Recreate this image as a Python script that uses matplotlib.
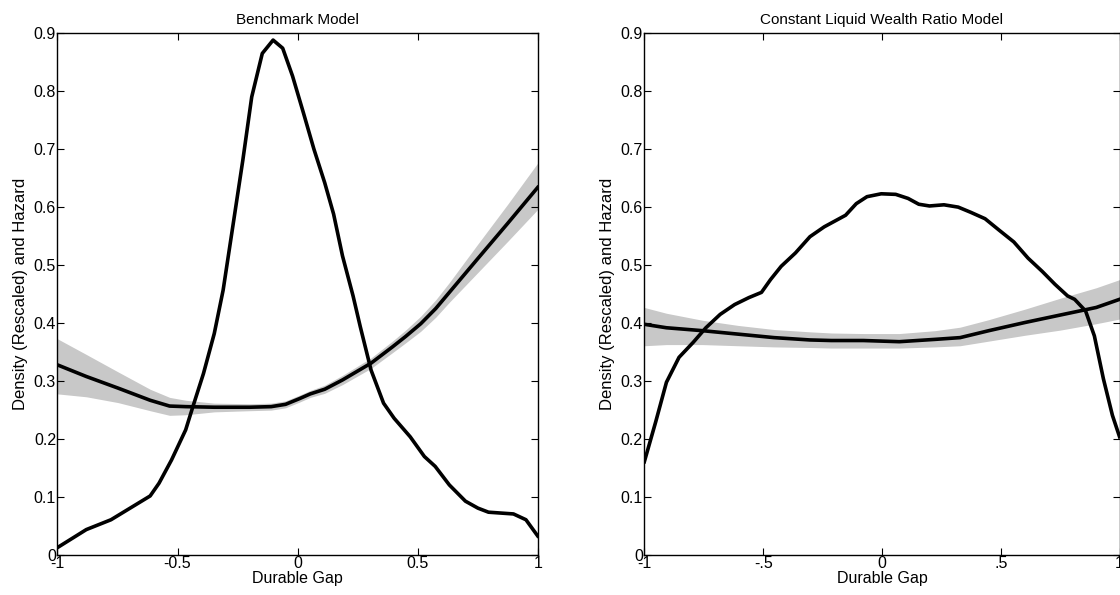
import matplotlib
matplotlib.use("Agg")
import matplotlib.pyplot as plt

plt.rcParams['font.family'] = ['Liberation Sans', 'DejaVu Sans']

# ---- Benchmark model ----
bench_dens_x = [-1.0, -0.88, -0.777, -0.614, -0.577, -0.525, -0.466, -0.436, -0.392, -0.347,
                -0.31, -0.266, -0.228, -0.191, -0.147, -0.102, -0.062, -0.021, 0.024, 0.068,
                0.113, 0.15, 0.187, 0.231, 0.261, 0.306, 0.358, 0.402, 0.469, 0.528,
                0.573, 0.632, 0.699, 0.751, 0.795, 0.899, 0.951, 1.0]
bench_dens = [0.012, 0.043, 0.060, 0.101, 0.123, 0.163, 0.215, 0.255, 0.312, 0.381,
              0.456, 0.576, 0.68, 0.789, 0.864, 0.887, 0.873, 0.825, 0.762, 0.699,
              0.641, 0.587, 0.515, 0.446, 0.393, 0.318, 0.261, 0.235, 0.203, 0.169,
              0.152, 0.120, 0.092, 0.080, 0.073, 0.070, 0.060, 0.032]

bench_haz_x = [-1.0, -0.88, -0.748, -0.614, -0.533, -0.466, -0.347, -0.199, -0.11, -0.05,
               0.009, 0.053, 0.113, 0.187, 0.306, 0.395, 0.45, 0.513, 0.575, 0.632, 0.75,
               0.875, 1.0]
bench_haz = [0.327, 0.307, 0.287, 0.266, 0.256, 0.255, 0.254, 0.254, 0.255, 0.259,
             0.269, 0.277, 0.285, 0.301, 0.330, 0.358, 0.376, 0.398, 0.424, 0.452, 0.51,
             0.571, 0.633]
bench_hi = [0.372, 0.345, 0.315, 0.285, 0.271, 0.266, 0.261, 0.26, 0.261, 0.265,
            0.275, 0.283, 0.292, 0.309, 0.339, 0.368, 0.387, 0.411, 0.439, 0.469, 0.535,
            0.604, 0.675]
bench_lo = [0.277, 0.272, 0.262, 0.248, 0.240, 0.241, 0.246, 0.248, 0.249, 0.253,
            0.263, 0.271, 0.278, 0.293, 0.321, 0.348, 0.365, 0.385, 0.409, 0.435, 0.486,
            0.54, 0.595]

# ---- Constant liquid wealth ratio model ----
clw_dens_x = [-1.0, -0.952, -0.907, -0.854, -0.794, -0.741, -0.681, -0.62, -0.56, -0.507,
              -0.469, -0.424, -0.364, -0.303, -0.243, -0.153, -0.108, -0.063, -0.003, 0.058,
              0.11, 0.155, 0.2, 0.261, 0.321, 0.374, 0.434, 0.494, 0.555, 0.615,
              0.675, 0.728, 0.781, 0.811, 0.857, 0.894, 0.932, 0.97, 1.0]
clw_dens = [0.16, 0.229, 0.297, 0.340, 0.366, 0.391, 0.414, 0.431, 0.443, 0.452,
            0.474, 0.497, 0.52, 0.548, 0.565, 0.585, 0.605, 0.617, 0.622, 0.621,
            0.614, 0.604, 0.601, 0.603, 0.599, 0.590, 0.579, 0.559, 0.539, 0.511,
            0.488, 0.466, 0.446, 0.44, 0.42, 0.377, 0.303, 0.24, 0.203]

clw_haz_x = [-1.0, -0.907, -0.756, -0.605, -0.454, -0.304, -0.213, -0.078, 0.073, 0.224,
             0.329, 0.45, 0.601, 0.751, 0.902, 1.0]
clw_haz = [0.397, 0.391, 0.386, 0.38, 0.374, 0.37, 0.369, 0.369, 0.367, 0.371,
           0.374, 0.386, 0.4, 0.413, 0.426, 0.44]
clw_hi = [0.426, 0.416, 0.404, 0.395, 0.388, 0.384, 0.382, 0.381, 0.381, 0.386,
          0.392, 0.405, 0.423, 0.442, 0.46, 0.474]
clw_lo = [0.36, 0.362, 0.362, 0.36, 0.358, 0.357, 0.356, 0.356, 0.356, 0.358,
          0.36, 0.368, 0.378, 0.387, 0.398, 0.406]

panels = [
    ("Benchmark Model", bench_dens_x, bench_dens, bench_haz_x, bench_haz, bench_hi, bench_lo,
     [-1, -0.5, 0, 0.5, 1], ["-1", "-0.5", "0", "0.5", "1"]),
    ("Constant Liquid Wealth Ratio Model", clw_dens_x, clw_dens, clw_haz_x, clw_haz, clw_hi, clw_lo,
     [-1, -0.5, 0, 0.5, 1], ["-1", "-.5", "0", ".5", "1"]),
]

yticks = [0, 0.1, 0.2, 0.3, 0.4, 0.5, 0.6, 0.7, 0.8, 0.9]
ytick_labels = ["0", "0.1", "0.2", "0.3", "0.4", "0.5", "0.6", "0.7", "0.8", "0.9"]

fig = plt.figure(figsize=(11.2, 5.95), dpi=100)
rects = [[0.0513, 0.068, 0.4288, 0.8773], [0.5753, 0.068, 0.4243, 0.8773]]

for rect, (title, dx, dy, hx, hy, hi, lo, xt, xtl) in zip(rects, panels):
    ax = fig.add_axes(rect)
    ax.fill_between(hx, lo, hi, color="#c8c8c8", linewidth=0)
    ax.plot(hx, hy, color="black", linewidth=2.6)
    ax.plot(dx, dy, color="black", linewidth=2.6)
    ax.set_xlim(-1, 1)
    ax.set_ylim(0, 0.9)
    ax.set_xticks(xt)
    ax.set_xticklabels(xtl)
    ax.set_yticks(yticks)
    ax.set_yticklabels(ytick_labels)
    ax.tick_params(direction="in", top=True, right=True, length=5, width=0.8,
                   labelsize=11.5, pad=1)
    for s in ax.spines.values():
        s.set_linewidth(1.0)
    ax.set_title(title, fontsize=11, pad=6)
    ax.set_xlabel("Durable Gap", fontsize=11.5, labelpad=0)
    ax.set_ylabel("Density (Rescaled) and Hazard", fontsize=12, labelpad=4)

fig.savefig("out.png", dpi=100)
